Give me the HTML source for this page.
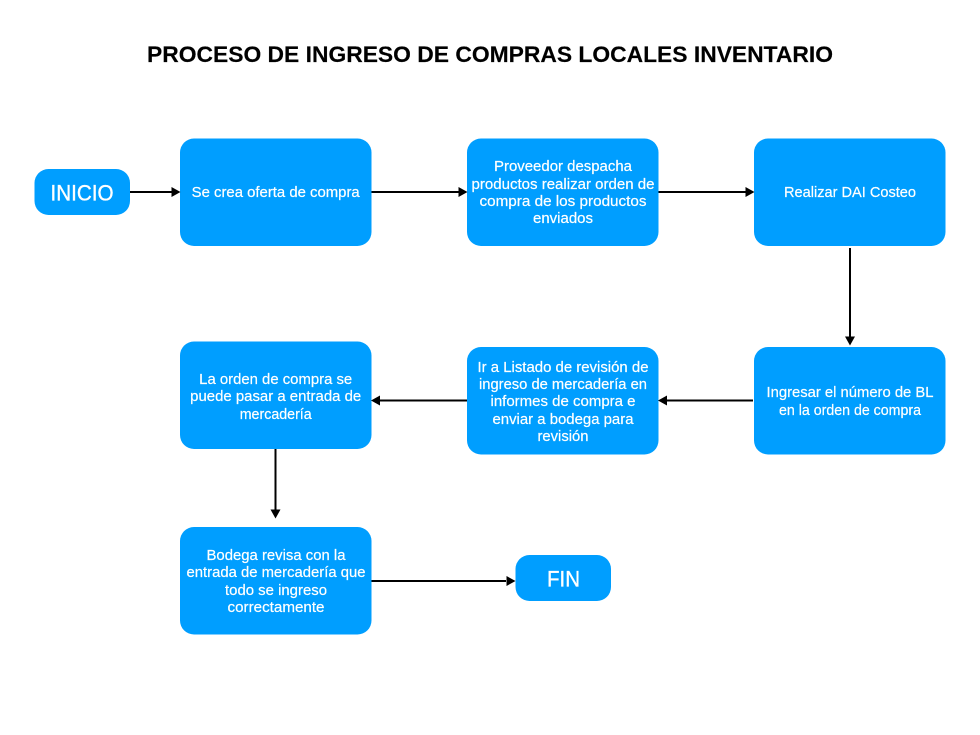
<!DOCTYPE html>
<html><head><meta charset="utf-8"><style>
html,body{margin:0;padding:0;background:#fff}
svg{display:block}
text{font-family:"Liberation Sans",Arial,sans-serif;text-anchor:middle}
.t{fill:#fff;font-size:14.5px;stroke:#fff;stroke-width:.2px}
.b{fill:#fff;font-size:22px;stroke:#fff;stroke-width:.35px}
.n{fill:#009eff}
.l{stroke:#000;stroke-width:2;fill:none}
</style></head><body>
<svg width="980" height="735" viewBox="0 0 980 735" xmlns="http://www.w3.org/2000/svg">
<rect width="980" height="735" fill="#fff"/>
<text x="490" y="62" font-size="22.5" font-weight="700" fill="#000" stroke="#000" stroke-width=".15" textLength="686" lengthAdjust="spacingAndGlyphs">PROCESO DE INGRESO DE COMPRAS LOCALES INVENTARIO</text>

<rect class="n" x="34.500" y="169" width="95.500" height="46" rx="14"/>
<rect class="n" x="180" y="138.500" width="191.500" height="107.500" rx="14"/>
<rect class="n" x="467" y="138.500" width="191.500" height="107.500" rx="14"/>
<rect class="n" x="754" y="138.500" width="191.500" height="107.500" rx="14"/>
<rect class="n" x="754" y="347" width="191.500" height="107.500" rx="14"/>
<rect class="n" x="467" y="347" width="191.500" height="107.500" rx="14"/>
<rect class="n" x="180" y="341.500" width="191.500" height="107.500" rx="14"/>
<rect class="n" x="180" y="527" width="191.500" height="107.500" rx="14"/>
<rect class="n" x="515.500" y="555" width="95.500" height="46" rx="14"/>

<text class="b" x="82" y="200.500" textLength="63" lengthAdjust="spacingAndGlyphs">INICIO</text>
<text class="b" x="563.500" y="586.500" textLength="33" lengthAdjust="spacingAndGlyphs">FIN</text>

<text class="t" x="275.700" y="197" textLength="168" lengthAdjust="spacingAndGlyphs">Se crea oferta de compra</text>

<text class="t" x="563" y="171" textLength="138" lengthAdjust="spacingAndGlyphs">Proveedor despacha</text>
<text class="t" x="563" y="189" textLength="183" lengthAdjust="spacingAndGlyphs">productos realizar orden de</text>
<text class="t" x="563" y="206" textLength="167" lengthAdjust="spacingAndGlyphs">compra de los productos</text>
<text class="t" x="563" y="223" textLength="60" lengthAdjust="spacingAndGlyphs">enviados</text>

<text class="t" x="850" y="197" textLength="132" lengthAdjust="spacingAndGlyphs">Realizar DAI Costeo</text>

<text class="t" x="850" y="397" textLength="167" lengthAdjust="spacingAndGlyphs">Ingresar el número de BL</text>
<text class="t" x="850" y="415" textLength="142" lengthAdjust="spacingAndGlyphs">en la orden de compra</text>

<text class="t" x="563" y="372" textLength="171" lengthAdjust="spacingAndGlyphs">Ir a Listado de revisión de</text>
<text class="t" x="563" y="389" textLength="168" lengthAdjust="spacingAndGlyphs">ingreso de mercadería en</text>
<text class="t" x="563" y="406" textLength="145" lengthAdjust="spacingAndGlyphs">informes de compra e</text>
<text class="t" x="563" y="424" textLength="141" lengthAdjust="spacingAndGlyphs">enviar a bodega para</text>
<text class="t" x="563" y="441" textLength="51" lengthAdjust="spacingAndGlyphs">revisión</text>

<text class="t" x="275.700" y="384" textLength="153" lengthAdjust="spacingAndGlyphs">La orden de compra se</text>
<text class="t" x="275.700" y="401" textLength="171" lengthAdjust="spacingAndGlyphs">puede pasar a entrada de</text>
<text class="t" x="275.700" y="419" textLength="72" lengthAdjust="spacingAndGlyphs">mercadería</text>

<text class="t" x="276" y="560" textLength="139" lengthAdjust="spacingAndGlyphs">Bodega revisa con la</text>
<text class="t" x="276" y="577" textLength="179" lengthAdjust="spacingAndGlyphs">entrada de mercadería que</text>
<text class="t" x="276" y="595" textLength="102" lengthAdjust="spacingAndGlyphs">todo se ingreso</text>
<text class="t" x="276" y="612" textLength="97" lengthAdjust="spacingAndGlyphs">correctamente</text>

<path class="l" d="M130 192H172M371.500 192H459M658.500 192H746M850 248V337M753 400.500H666M467 400.500H380M275.500 449V510M371.500 581H506"/>
<path d="M180.500 192l-9-5v10zM467.500 192l-9-5v10zM754.500 192l-9-5v10zM850 345.500l-5-9h10zM658 400.500l9-5v10zM371 400.500l9-5v10zM275.500 518.500l-5-9h10zM515.500 581l-9-5v10z" fill="#000"/>
</svg>
</body></html>
